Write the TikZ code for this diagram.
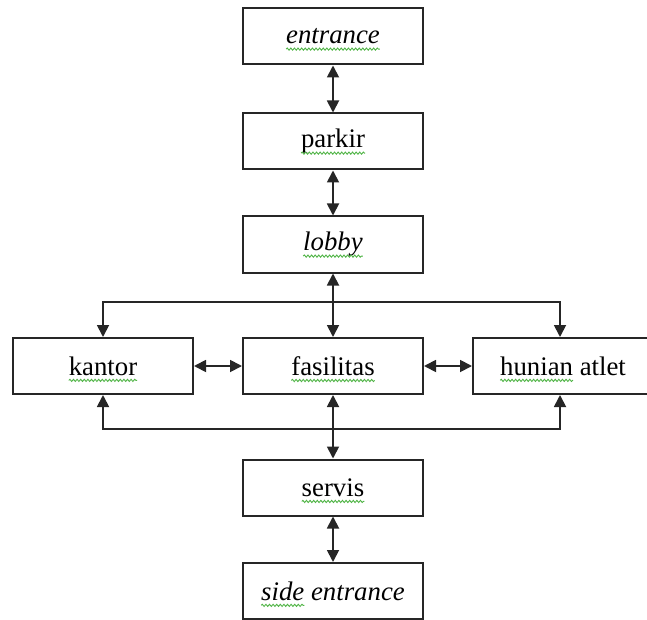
\documentclass[tikz,border=0pt]{standalone}
\usepackage{fontspec}
\setmainfont{Liberation Serif}
\usetikzlibrary{arrows.meta,decorations.pathmorphing}
\definecolor{wavegreen}{RGB}{80,180,70}
\newcommand\bfnt{\fontsize{13.4}{15}\selectfont}
\newlength\wlEnt \newlength\wlPar \newlength\wlLob \newlength\wlKan
\newlength\wlFas \newlength\wlHun \newlength\wlHunA \newlength\wlSer
\newlength\wlSid \newlength\wlSidA
\newcommand\gw[3]{%
  \draw[wave] ([xshift=-0.5#2,yshift=-2.6pt]#1.base) -- ++(#3,0);}
\begin{document}
\settowidth{\wlEnt}{\bfnt\itshape entrance}%
\settowidth{\wlPar}{\bfnt parkir}%
\settowidth{\wlLob}{\bfnt\itshape lobby}%
\settowidth{\wlKan}{\bfnt kantor}%
\settowidth{\wlFas}{\bfnt fasilitas}%
\settowidth{\wlHun}{\bfnt hunian atlet}%
\settowidth{\wlHunA}{\bfnt hunian}%
\settowidth{\wlSer}{\bfnt servis}%
\settowidth{\wlSid}{\bfnt\itshape side entrance}%
\settowidth{\wlSidA}{\bfnt\itshape side}%
\begin{tikzpicture}[x=0.5pt,y=-0.5pt,
  box/.style={draw=black!85, line width=1pt, minimum width=90pt, minimum height=28pt, inner sep=0pt,
    font=\bfnt},
  link/.style={draw=black!85, line width=0.9pt, {Triangle[length=6pt,width=6pt]}-{Triangle[length=6pt,width=6pt]}},
  arr/.style={draw=black!85, line width=0.9pt, -{Triangle[length=6pt,width=6pt]}},
  wave/.style={draw=wavegreen, line width=0.45pt, decorate,
    decoration={snake, segment length=1.8pt, amplitude=0.55pt}}]
\useasboundingbox (0,0) rectangle (647,620);
\clip (0,0) rectangle (647,620);
\node[box] (ent) at (333,36.5) {\itshape entrance};
\node[box] (par) at (333,141.5) {parkir};
\node[box] (lob) at (333,244.5) {\itshape lobby};
\node[box] (kan) at (103,366) {kantor};
\node[box] (fas) at (333,366) {fasilitas};
\node[box] (hun) at (563,366) {hunian atlet};
\node[box] (ser) at (333,487.5) {servis};
\node[box] (sid) at (333,591) {\itshape side entrance};
\gw{ent}{\wlEnt}{\wlEnt}
\gw{par}{\wlPar}{\wlPar}
\gw{lob}{\wlLob}{\wlLob}
\gw{kan}{\wlKan}{\wlKan}
\gw{fas}{\wlFas}{\wlFas}
\gw{hun}{\wlHun}{\wlHunA}
\gw{ser}{\wlSer}{\wlSer}
\gw{sid}{\wlSid}{\wlSidA}
\coordinate (jt) at (333,302);
\coordinate (jb) at (333,429);
\draw[link] (ent) -- (par);
\draw[link] (par) -- (lob);
\draw[link] (lob) -- (fas);
\draw[link] (fas) -- (ser);
\draw[link] (ser) -- (sid);
\draw[link] (kan) -- (fas);
\draw[link] (fas) -- (hun);
\draw[arr] (jt) -| (kan.north);
\draw[arr] (jt) -| ([xshift=-1.5pt]hun.north);
\draw[arr] (jb) -| (kan.south);
\draw[arr] (jb) -| ([xshift=-1.5pt]hun.south);
\end{tikzpicture}
\end{document}
